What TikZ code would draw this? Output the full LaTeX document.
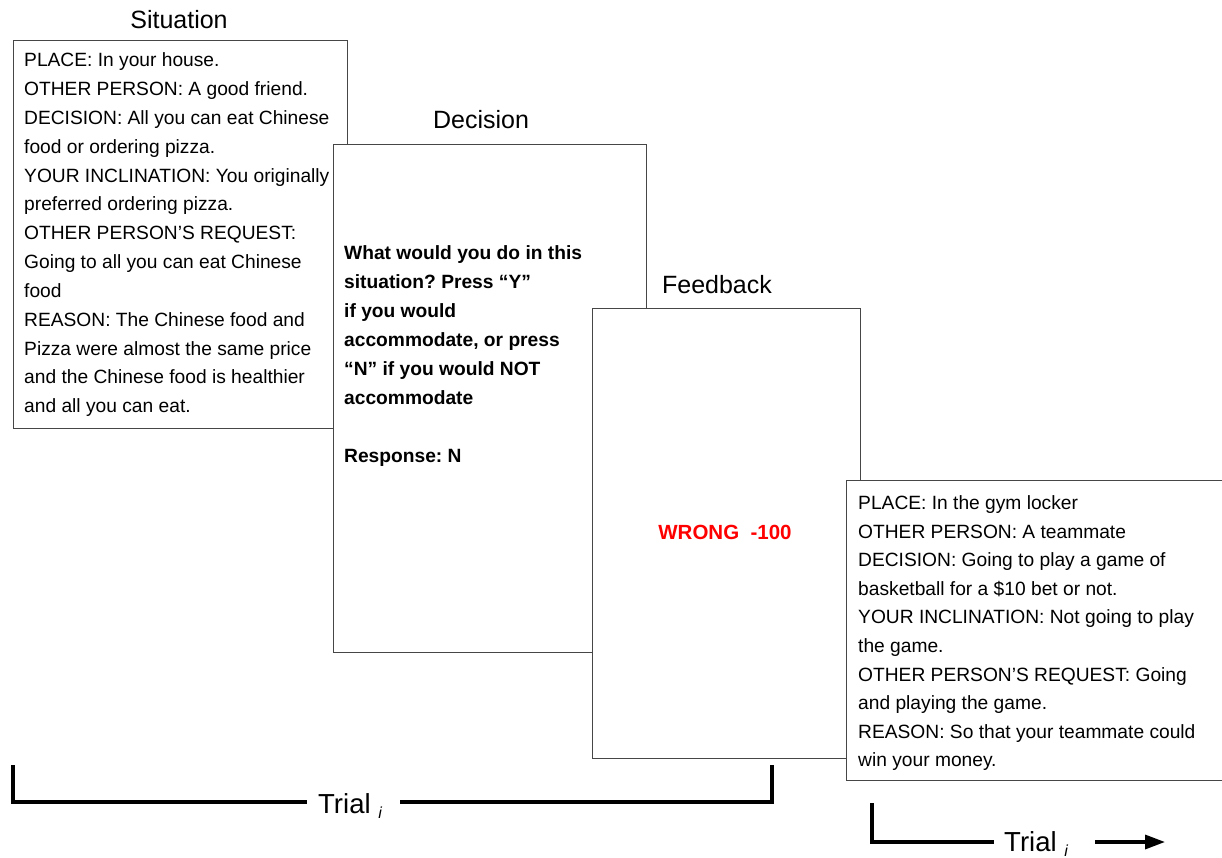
\documentclass[tikz,border=0pt]{standalone}
\usepackage{fontspec}
\setmainfont{Liberation Sans}
\usetikzlibrary{arrows.meta}
\definecolor{boxline}{RGB}{70,70,70}
\definecolor{wrongred}{RGB}{255,0,0}
\tikzset{
  card/.style={draw=boxline, line width=1pt, fill=white, inner sep=0pt, anchor=north west},
  title/.style={font=\fontsize{25}{25}\selectfont, inner sep=0pt},
  body/.style={font=\fontsize{19.2}{19.2}\selectfont, inner sep=0pt, anchor=base west},
  bodyb/.style={font=\fontsize{19.2}{19.2}\selectfont\bfseries, inner sep=0pt, anchor=base west},
  trial/.style={font=\fontsize{27.5}{27.5}\selectfont, inner sep=0pt, anchor=base west},
  bracket/.style={line width=3.3pt, black},
}
\newcommand{\subi}{{\fontsize{16}{16}\selectfont\itshape\raisebox{-5pt}{i}}}
\frenchspacing
\begin{document}
\begin{tikzpicture}[x=1pt,y=-1pt]
\useasboundingbox (0,0) rectangle (1222,858);

% Situation
\node[title] (sittitle) at (179,20) {Situation};
\node[card, minimum width=334pt, minimum height=388pt] (sitbox) at (13,40) {};
\foreach \l [count=\k] in {
  PLACE: In your house.,
  OTHER PERSON: A good friend.,
  DECISION: All you can eat Chinese,
  food or ordering pizza.,
  YOUR INCLINATION: You originally,
  preferred ordering pizza.,
  OTHER PERSON’S REQUEST:,
  Going to all you can eat Chinese,
  food,
  REASON: The Chinese food and,
  Pizza were almost the same price,
  and the Chinese food is healthier,
  and all you can eat.}
  \node[body] (sit\k) at (24,{67+28.8*(\k-1)}) {\l};

% Decision
\node[title] (dectitle) at (481,120) {Decision};
\node[card, minimum width=313pt, minimum height=508pt] (decbox) at (333,144) {};
\foreach \l/\k in {
  What would you do in this/0,
  situation? Press “Y”/1,
  if you would/2,
  {accommodate, or press}/3,
  “N” if you would NOT/4,
  accommodate/5,
  Response: N/7}
  \node[bodyb] (dec\k) at (344,{259.7+28.9*\k}) {\l};

% Feedback
\node[title] (fbtitle) at (717,285) {Feedback};
\node[card, minimum width=268pt, minimum height=450pt] (fbbox) at (592,308) {};
\node[font=\fontsize{20.5}{20.5}\selectfont\bfseries, text=wrongred, inner sep=0pt] (wrong) at (725,532) {WRONG\ \ -100};

% Next situation
\node[card, minimum width=390pt, minimum height=300pt] (nextbox) at (846,480) {};
\foreach \l [count=\k] in {
  PLACE: In the gym locker,
  OTHER PERSON: A teammate,
  DECISION: Going to play a game of,
  basketball for a \$10 bet or not.,
  YOUR INCLINATION: Not going to play,
  the game.,
  OTHER PERSON’S REQUEST: Going,
  and playing the game.,
  REASON: So that your teammate could,
  win your money.}
  \node[body] (nxt\k) at (858,{509.4+28.6*(\k-1)}) {\l};

% Trial i bracket
\node[trial] (trial1) at (318,813) {Trial \subi};
\coordinate (b1a) at (13,765);
\coordinate (b1b) at (13,802);
\coordinate (b1c) at (307,802);
\coordinate (b1d) at (400,802);
\coordinate (b1e) at (772,802);
\coordinate (b1f) at (772,765);
\draw[bracket] (b1a) -- (b1b) -- (b1c);
\draw[bracket] (b1d) -- (b1e) -- (b1f);

% next trial
\node[trial] (trial2) at (1004,851) {Trial \subi};
\coordinate (b2a) at (872,803);
\coordinate (b2b) at (872,842);
\coordinate (b2c) at (994,842);
\coordinate (b2d) at (1095,842);
\coordinate (b2e) at (1165,842);
\draw[bracket] (b2a) -- (b2b) -- (b2c);
\draw[bracket, -{Triangle[length=20pt,width=14pt]}] (b2d) -- (b2e);
\end{tikzpicture}
\end{document}
